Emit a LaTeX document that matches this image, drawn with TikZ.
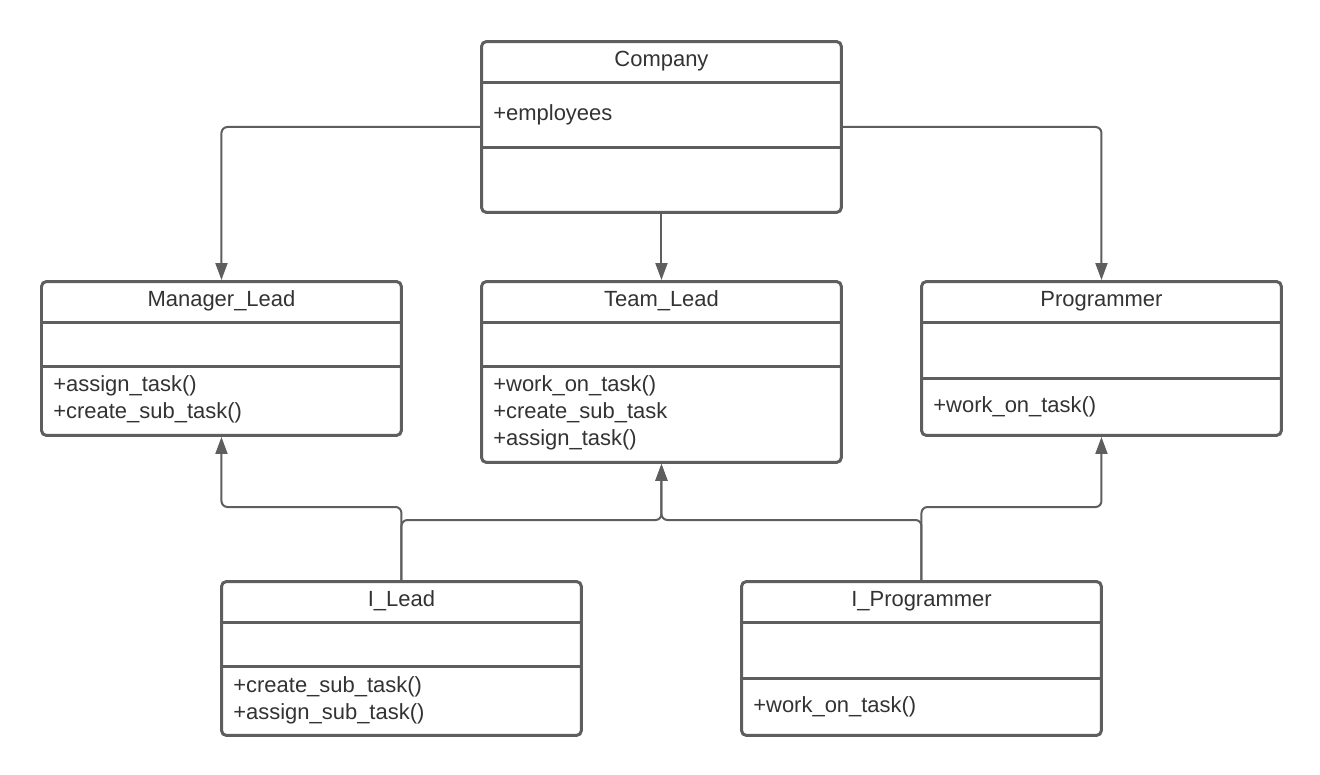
\documentclass[tikz,border=0pt]{standalone}
\usepackage{fontspec}
\setmainfont{Liberation Sans}
\usepackage{tikz}
\usetikzlibrary{positioning, arrows.meta}

\definecolor{umlline}{HTML}{5E5E5E}
\definecolor{umltext}{HTML}{333333}

\tikzset{
    classbox/.style={draw=umlline, line width=0.06cm, rounded corners=0.1cm,
        fill=white, minimum width=7.2cm, anchor=north west},
    divider/.style={draw=umlline, line width=0.06cm},
    classname/.style={anchor=base, inner sep=0, text=umltext,
        font=\fontsize{12.5pt}{15.4pt}\selectfont},
    member/.style={anchor=base west, inner sep=0, text=umltext,
        font=\fontsize{12.5pt}{15.4pt}\selectfont},
    gen/.style={draw=umlline, line width=0.04cm, rounded corners=0.12cm,
        -{Triangle[length=0.34cm, width=0.24cm]}}
}

\begin{document}
\begin{tikzpicture}[x=0.02cm, y=-0.02cm]

        \useasboundingbox (0,0) rectangle (1320,775);

        % Classes
        \node[classbox, minimum height=3.42cm] (company) at (480,40) {};
        \node[classbox, minimum height=3.08cm] (manager) at (40,280) {};
        \node[classbox, minimum height=3.62cm] (team) at (480,280) {};
        \node[classbox, minimum height=3.08cm] (programmer) at (920,280) {};
        \node[classbox, minimum height=3.08cm] (ilead) at (220,580) {};
        \node[classbox, minimum height=3.08cm] (iprogrammer) at (740,580) {};

        \foreach \b/\y in {company/82, company/147, manager/322, manager/366,
            team/322, team/366, programmer/322, programmer/378,
            ilead/622, ilead/666, iprogrammer/622, iprogrammer/678}
            \draw[divider] (\b.west |- 0,\y) -- (\b.east |- 0,\y);

        % Names
        \node[classname] (companyname) at (company.north |- 0,66) {Company};
        \node[classname] (managername) at (manager.north |- 0,306) {Manager\_Lead};
        \node[classname] (teamname) at (team.north |- 0,306) {Team\_Lead};
        \node[classname] (programmername) at (programmer.north |- 0,306) {Programmer};
        \node[classname] (ileadname) at (ilead.north |- 0,606) {I\_Lead};
        \node[classname] (iprogrammername) at (iprogrammer.north |- 0,606) {I\_Programmer};

        % Members
        \node[member] (companyattr) at (493,120) {+employees};

        \foreach \op [count=\i] in {+assign\_task(), +create\_sub\_task()}
            \node[member] (managerop\i) at (53,364+27*\i) {\op};

        \foreach \op [count=\i] in {+work\_on\_task(), +create\_sub\_task, +assign\_task()}
            \node[member] (teamop\i) at (493,364+27*\i) {\op};

        \node[member] (programmerop) at (933,412) {+work\_on\_task()};

        \foreach \op [count=\i] in {+create\_sub\_task(), +assign\_sub\_task()}
            \node[member] (ileadop\i) at (233,665+27*\i) {\op};

        \node[member] (iprogrammerop) at (753,712) {+work\_on\_task()};

        % Connectors
        \coordinate (upper) at (0,507);
        \coordinate (lower) at (0,520);

        \draw[gen] (company.west) -| (manager.north);
        \draw[gen] (company.south) -- (team.north);
        \draw[gen] (company.east) -| (programmer.north);

        \draw[gen] (ilead.north) |- (manager.south |- upper) -- (manager.south);
        \draw[gen] (ilead.north) |- (team.south |- lower) -- (team.south);
        \draw[gen] (iprogrammer.north) |- (team.south |- lower) -- (team.south);
        \draw[gen] (iprogrammer.north) |- (programmer.south |- upper) -- (programmer.south);

\end{tikzpicture}
\end{document}
